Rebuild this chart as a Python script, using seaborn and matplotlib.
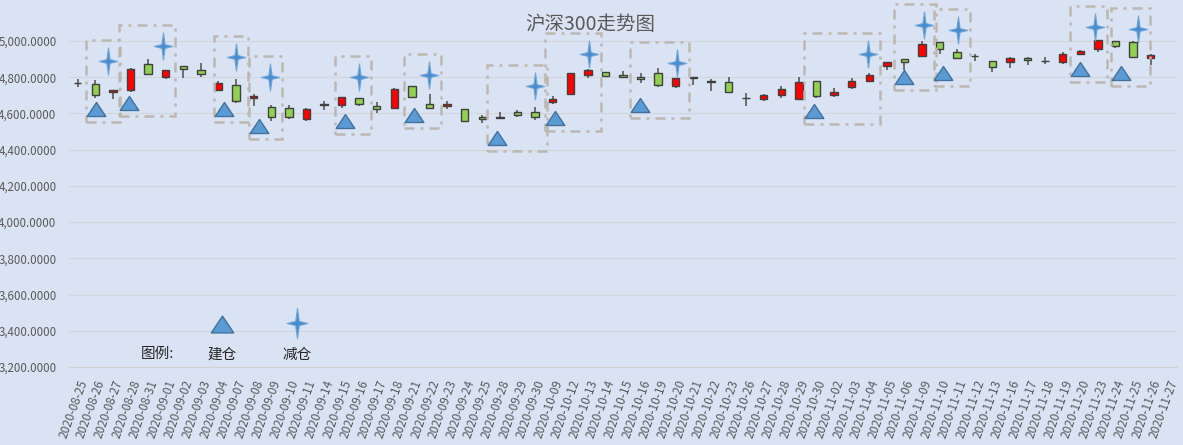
import numpy as np
import pandas as pd
import matplotlib
matplotlib.use('Agg')
import matplotlib.pyplot as plt
import matplotlib.ticker as mticker
from matplotlib.path import Path
from matplotlib.patches import Rectangle
import seaborn as sns

# trading days on the category axis (last one has no candle)
dates = ['2020-08-25', '2020-08-26', '2020-08-27', '2020-08-28', '2020-08-31',
         '2020-09-01', '2020-09-02', '2020-09-03', '2020-09-04', '2020-09-07',
         '2020-09-08', '2020-09-09', '2020-09-10', '2020-09-11', '2020-09-14',
         '2020-09-15', '2020-09-16', '2020-09-17', '2020-09-18', '2020-09-21',
         '2020-09-22', '2020-09-23', '2020-09-24', '2020-09-25', '2020-09-28',
         '2020-09-29', '2020-09-30', '2020-10-09', '2020-10-12', '2020-10-13',
         '2020-10-14', '2020-10-15', '2020-10-16', '2020-10-19', '2020-10-20',
         '2020-10-21', '2020-10-22', '2020-10-23', '2020-10-26', '2020-10-27',
         '2020-10-28', '2020-10-29', '2020-10-30', '2020-11-02', '2020-11-03',
         '2020-11-04', '2020-11-05', '2020-11-06', '2020-11-09', '2020-11-10',
         '2020-11-11', '2020-11-12', '2020-11-13', '2020-11-16', '2020-11-17',
         '2020-11-18', '2020-11-19', '2020-11-20', '2020-11-23', '2020-11-24',
         '2020-11-25', '2020-11-26', '2020-11-27']

open_ = [4767, 4764, 4717, 4727, 4874, 4801, 4862, 4840, 4732, 4758,
         4684, 4634, 4628, 4572, 4650, 4648, 4684, 4639, 4632, 4751,
         4650, 4639, 4622, 4578, 4578, 4606, 4608, 4661, 4706, 4812,
         4829, 4814, 4801, 4823, 4751, 4799, 4778, 4773, 4688, 4678,
         4701, 4682, 4779, 4701, 4745, 4777, 4862, 4901, 4916, 4996,
         4940, 4917, 4890, 4883, 4907, 4888, 4883, 4929, 4957, 5002,
         4996, 4907, np.nan]
high = [4790, 4782, 4728, 4851, 4901, 4840, 4862, 4879, 4779, 4790,
        4706, 4647, 4645, 4632, 4671, 4689, 4684, 4663, 4740, 4753,
        4706, 4667, 4626, 4593, 4609, 4617, 4634, 4695, 4825, 4846,
        4829, 4833, 4823, 4851, 4795, 4799, 4788, 4799, 4712, 4708,
        4751, 4799, 4779, 4740, 4795, 4823, 4885, 4901, 5000, 4996,
        4957, 4931, 4890, 4910, 4913, 4913, 4940, 4953, 5004, 5002,
        5002, 4931, np.nan]
low = [4745, 4687, 4678, 4717, 4818, 4790, 4793, 4801, 4728, 4656,
       4639, 4557, 4570, 4561, 4619, 4628, 4639, 4600, 4626, 4687,
       4624, 4622, 4561, 4550, 4567, 4581, 4563, 4654, 4700, 4795,
       4807, 4801, 4767, 4745, 4740, 4756, 4723, 4717, 4641, 4671,
       4686, 4678, 4686, 4693, 4734, 4771, 4840, 4842, 4916, 4929,
       4900, 4888, 4827, 4851, 4868, 4874, 4874, 4924, 4939, 4961,
       4913, 4868, np.nan]
close = [4766, 4704, 4728, 4846, 4818, 4840, 4846, 4818, 4769, 4667,
         4697, 4583, 4578, 4622, 4649, 4689, 4654, 4626, 4734, 4689,
         4632, 4650, 4561, 4567, 4577, 4589, 4583, 4678, 4825, 4840,
         4807, 4801, 4788, 4756, 4795, 4797, 4776, 4717, 4686, 4701,
         4736, 4773, 4695, 4719, 4779, 4812, 4885, 4885, 4985, 4957,
         4905, 4916, 4855, 4907, 4894, 4887, 4929, 4946, 5004, 4974,
         4913, 4924, np.nan]

# 建仓 (triangles) and 减仓 (stars): position on the day axis and price level
buy_pos = [1.04, 2.93, 8.33, 10.31, 15.2, 19.1, 23.84, 27.15, 31.95, 41.84, 46.95, 49.22, 56.99, 59.32]
buy_price = [4623, 4660, 4624, 4533, 4561, 4594, 4467, 4575, 4646, 4614, 4800, 4822, 4847, 4824]
sell_pos = [1.70, 4.83, 8.99, 10.94, 16.0, 19.96, 25.98, 29.07, 34.09, 44.92, 48.1, 50.03, 57.86, 60.26]
sell_price = [4891, 4974, 4913, 4803, 4801, 4812, 4753, 4927, 4877, 4927, 5088, 5061, 5076, 5066]

df = pd.DataFrame({'date': dates, 'open': open_, 'high': high, 'low': low, 'close': close})
df['x'] = np.arange(len(df))
candles = df.dropna()

sns.set_style('white', rc={'axes.facecolor': '#DAE3F3', 'figure.facecolor': '#DAE3F3'})
plt.rcParams['font.family'] = ['Noto Sans CJK SC', 'DejaVu Sans']

fig = plt.figure(figsize=(11.83, 4.45), dpi=100)
ax = fig.add_axes([69 / 1183, 1 - 367 / 445, 1108 / 1183, 360.4 / 445])

# candles
ax.vlines(candles['x'], candles['low'], candles['high'], color='#595959', lw=1.2, zorder=2)
body_bottom = np.minimum(candles['open'], candles['close'])
body_h = np.maximum((candles['close'] - candles['open']).abs(), 1.5)
body_col = np.where(candles['close'] > candles['open'], '#FF0000', '#92D050')
ax.bar(candles['x'], body_h, bottom=body_bottom, width=0.42, color=body_col,
       edgecolor='#404040', linewidth=1.0, zorder=3)

# marker shapes
tri = Path([(-1, -0.75), (1, -0.75), (0, 0.75), (-1, -0.75)],
           [Path.MOVETO, Path.LINETO, Path.LINETO, Path.CLOSEPOLY])
star_pts = [(0, 1), (0.12, 0.14), (0.68, 0), (0.12, -0.14), (0, -1),
            (-0.12, -0.14), (-0.68, 0), (-0.12, 0.14), (0, 1)]
star = Path(star_pts, [Path.MOVETO] + [Path.LINETO] * 7 + [Path.CLOSEPOLY])

sns.scatterplot(x=buy_pos, y=buy_price, marker=tri, s=180, color='#5B9BD5',
                edgecolor='#41719C', linewidth=1.0, zorder=5, ax=ax, clip_on=False)
sns.scatterplot(x=sell_pos, y=sell_price, marker=star, s=380, color='#4A8CCB',
                edgecolor='#6FA6DA', linewidth=0.8, zorder=5, ax=ax, clip_on=False)

# dashed boxes round each trade pair
for bx, by, sx, sy in zip(buy_pos, buy_price, sell_pos, sell_price):
    x0 = min(bx, sx) - 0.56
    x1 = max(bx, sx) + 0.68
    y0 = by - 72
    y1 = sy + 115
    ax.add_patch(Rectangle((x0, y0), x1 - x0, y1 - y0, fill=False, edgecolor='#BDB7B1',
                           lw=1.8, linestyle=(0, (4, 2.4, 1.2, 2.4)), zorder=4, clip_on=False))

# hand-made legend
ax.scatter([0.138], [0.118], marker=tri, s=260, color='#5B9BD5', edgecolor='#41719C',
           linewidth=1.0, transform=ax.transAxes, clip_on=False, zorder=5)
ax.scatter([0.2058], [0.122], marker=star, s=480, color='#4A8CCB', edgecolor='#6FA6DA',
           linewidth=0.8, transform=ax.transAxes, clip_on=False, zorder=5)
ax.text(0.0794, 0.036, '图例:', transform=ax.transAxes, ha='center', va='center', fontsize=10.5, color='#262626')
ax.text(0.138, 0.033, '建仓', transform=ax.transAxes, ha='center', va='center', fontsize=10.5, color='#262626')
ax.text(0.2058, 0.033, '减仓', transform=ax.transAxes, ha='center', va='center', fontsize=10.5, color='#262626')

# axes
ax.set_xlim(-0.5, len(dates) - 0.5)
ax.set_ylim(3200, 5190)
ax.set_yticks(np.arange(3200, 5001, 200))
ax.yaxis.set_major_formatter(mticker.FuncFormatter(lambda v, p: f'{v:,.4f}'))
ax.set_xticks(np.arange(len(dates)))
ax.set_xticklabels(dates, rotation=70, ha='right', va='top', rotation_mode='anchor')
ax.set_xticks(np.arange(len(dates) + 1) - 0.5, minor=True)
ax.tick_params(axis='x', which='major', length=0, pad=8, labelsize=8.5, labelcolor='#595959')
ax.tick_params(axis='x', which='minor', length=4, color='#D0D0D0', width=0.8)
ax.tick_params(axis='y', length=0, pad=9, labelsize=8.3, labelcolor='#595959')
ax.yaxis.grid(True, color='#D2D6DC', lw=0.8)
ax.set_axisbelow(True)
ax.set_xlabel('')
ax.set_ylabel('')
for side in ['left', 'right', 'top']:
    ax.spines[side].set_visible(False)
ax.spines['bottom'].set_color('#D0D0D0')

fig.text(0.499, 1 - 24 / 445, '沪深300走势图', ha='center', va='center', fontsize=14, color='#595959')

fig.savefig('out.png', dpi=100, facecolor=fig.get_facecolor())
